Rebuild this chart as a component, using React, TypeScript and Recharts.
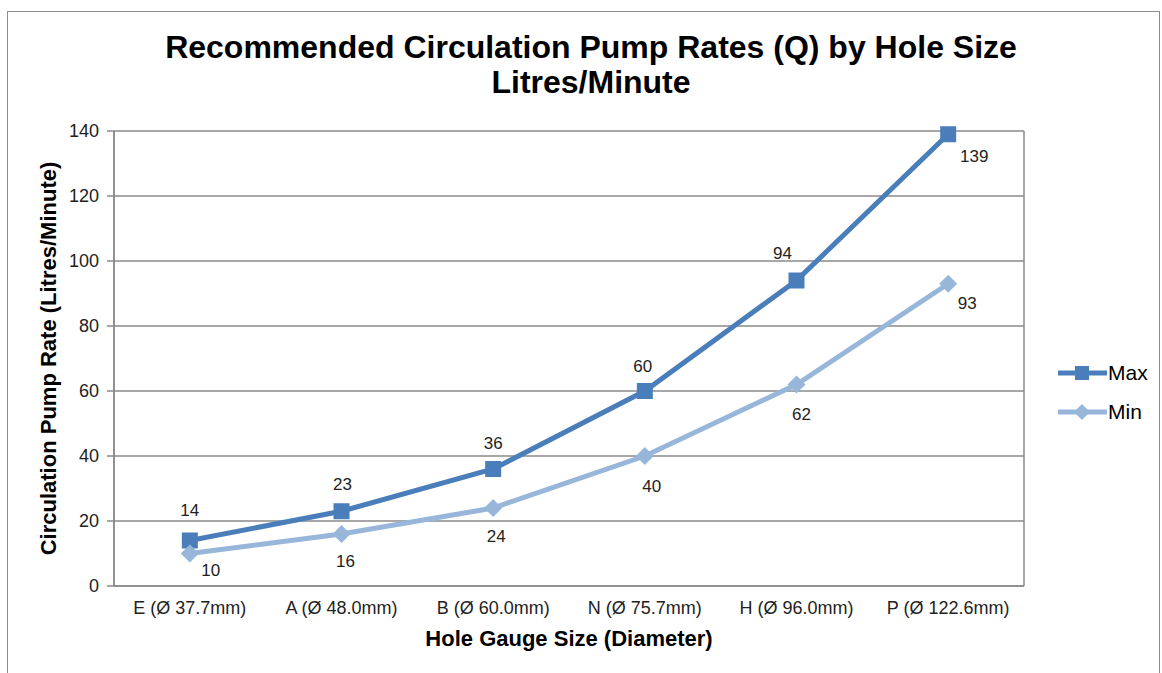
import React from 'react';
import { LineChart, Line, XAxis, YAxis, CartesianGrid, LabelList, Label } from 'recharts';

const categories = ['E (Ø 37.7mm)', 'A (Ø 48.0mm)', 'B (Ø 60.0mm)', 'N (Ø 75.7mm)', 'H (Ø 96.0mm)', 'P (Ø 122.6mm)'];
const maxValues = [14, 23, 36, 60, 94, 139];
const minValues = [10, 16, 24, 40, 62, 93];
const yTicks = [0, 20, 40, 60, 80, 100, 120, 140];
const gridTicks = [0, 1, 2, 3, 4, 5, 6];

const data = categories.map((name, i) => ({ name, max: maxValues[i], min: minValues[i] }));

const MAX_COLOR = '#4A7EBB';
const MIN_COLOR = '#98B6DA';
const GRID = '#8a8a8a';
const FONT = 'Liberation Sans, Arial, sans-serif';

const maxOffsets = [[0, -30], [1, -27], [0, -26], [-2, -25], [-14, -27], [26, 22]];
const minOffsets = [[21, 17], [4, 27], [3, 28], [7, 30], [5, 30], [19, 20]];

const makeLabel = (offsets: number[][]) => (props: any) => {
  const { x, y, value, index } = props;
  const [dx, dy] = offsets[index] || [0, -20];
  return (
    <text x={x + dx} y={y + dy} textAnchor="middle" dominantBaseline="central" fontSize={17} fill="#222" fontFamily={FONT}>
      {value}
    </text>
  );
};

const SquareDot = (props: any) => {
  const { cx, cy, index } = props;
  if (cx == null || cy == null) return null;
  return <rect key={`sq-${index}`} x={cx - 8} y={cy - 8} width={16} height={16} fill={MAX_COLOR} />;
};

const DiamondDot = (props: any) => {
  const { cx, cy, index } = props;
  if (cx == null || cy == null) return null;
  const r = 9;
  return (
    <polygon key={`dm-${index}`} points={`${cx},${cy - r} ${cx + r},${cy} ${cx},${cy + r} ${cx - r},${cy}`} fill={MIN_COLOR} />
  );
};

export default function App() {
  return (
    <div style={{ position: 'absolute', left: 0, top: 0, width: 1162, height: 673, overflow: 'hidden', background: '#fff', fontFamily: FONT }}>
      <div style={{ position: 'absolute', left: 7, top: 11, width: 1153, height: 720, border: '1.5px solid #8c8c8c', boxSizing: 'border-box' }} />
      <div style={{ position: 'absolute', left: 0, top: 30, width: 1182, textAlign: 'center', fontWeight: 'bold', fontSize: 32, lineHeight: '35px', color: '#000' }}>
        Recommended Circulation Pump Rates (Q) by Hole Size
        <br />
        Litres/Minute
      </div>
      <div style={{ position: 'absolute', left: 0, top: 0 }}>
        <LineChart width={1162} height={673} data={data} margin={{ top: 131, right: 138, bottom: 57, left: 44 }}>
          <XAxis
            xAxisId="grid"
            type="number"
            domain={[0, 6]}
            ticks={gridTicks}
            tick={false}
            height={0}
            axisLine={false}
            tickLine={{ stroke: GRID, strokeWidth: 1.5 }}
            tickSize={7}
          />
          <XAxis
            xAxisId="cat"
            dataKey="name"
            type="category"
            scale="band"
            height={30}
            tickLine={false}
            axisLine={{ stroke: GRID, strokeWidth: 1.5 }}
            tick={{ fontSize: 18, fill: '#222', fontFamily: FONT }}
            tickMargin={9}
            interval={0}
          >
            <Label value="Hole Gauge Size (Diameter)" position="bottom" offset={14} style={{ fontSize: 22, fontWeight: 'bold', fill: '#000', fontFamily: FONT }} />
          </XAxis>
          <YAxis
            width={70}
            domain={[0, 140]}
            ticks={yTicks}
            interval={0}
            axisLine={{ stroke: GRID, strokeWidth: 1.5 }}
            tickLine={{ stroke: GRID, strokeWidth: 1.5 }}
            tickSize={7}
            tickMargin={8}
            tick={{ fontSize: 18, fill: '#222', fontFamily: FONT }}
          >
            <Label
              value="Circulation Pump Rate (Litres/Minute)"
              angle={-90}
              position="insideLeft"
              offset={4}
              style={{ textAnchor: 'middle', fontSize: 22, fontWeight: 'bold', fill: '#000', fontFamily: FONT }}
            />
          </YAxis>
          <CartesianGrid xAxisId="grid" stroke={GRID} strokeWidth={1.5} vertical horizontal />
          <Line
            xAxisId="cat"
            type="linear"
            dataKey="max"
            stroke={MAX_COLOR}
            strokeWidth={5}
            dot={SquareDot}
            activeDot={false}
            isAnimationActive={false}
          >
            <LabelList dataKey="max" content={makeLabel(maxOffsets)} />
          </Line>
          <Line
            xAxisId="cat"
            type="linear"
            dataKey="min"
            stroke={MIN_COLOR}
            strokeWidth={5}
            dot={DiamondDot}
            activeDot={false}
            isAnimationActive={false}
          >
            <LabelList dataKey="min" content={makeLabel(minOffsets)} />
          </Line>
        </LineChart>
      </div>
      <div style={{ position: 'absolute', left: 1057, top: 353, fontSize: 21, color: '#000' }}>
        {[{ name: 'Max', color: MAX_COLOR, shape: 'square' }, { name: 'Min', color: MIN_COLOR, shape: 'diamond' }].map((s) => (
          <div key={s.name} style={{ display: 'flex', alignItems: 'center', height: 39 }}>
            <svg width={51} height={20}>
              <line x1={1} y1={10} x2={50} y2={10} stroke={s.color} strokeWidth={5} />
              {s.shape === 'square' ? (
                <rect x={18} y={3} width={14} height={14} fill={s.color} />
              ) : (
                <polygon points="25,2 33,10 25,18 17,10" fill={s.color} />
              )}
            </svg>
            <span>{s.name}</span>
          </div>
        ))}
      </div>
    </div>
  );
}
